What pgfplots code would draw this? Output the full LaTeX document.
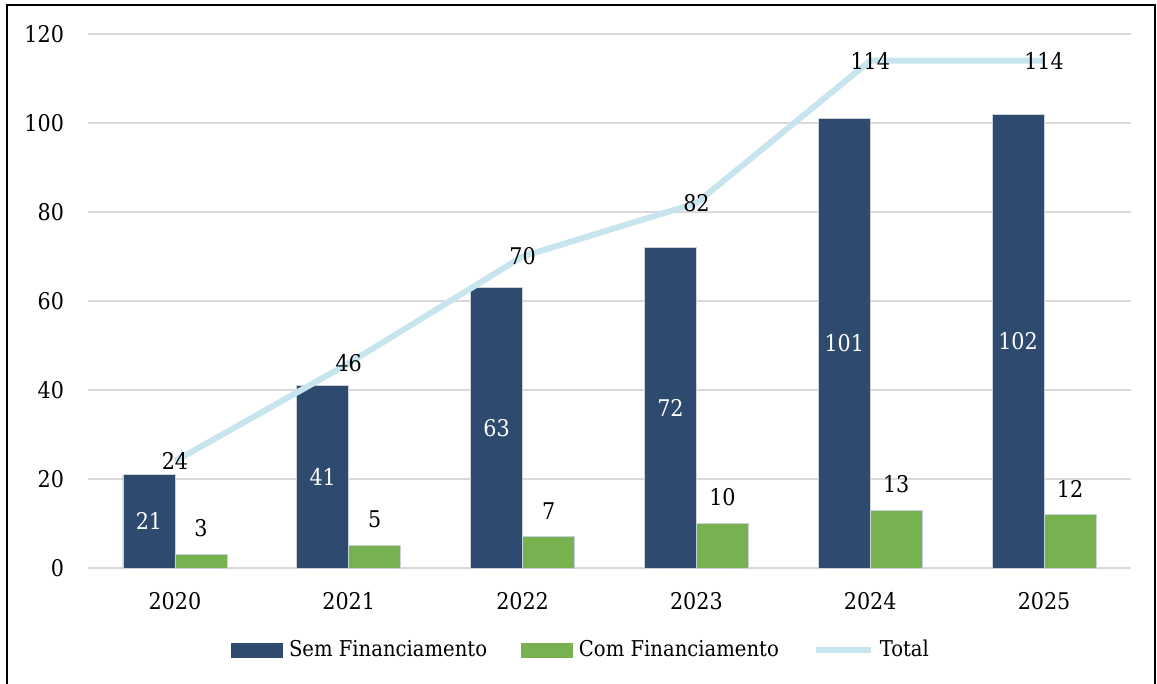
\documentclass[border=0pt]{standalone}
\usepackage{fontspec}
\setmainfont{DejaVu Serif Condensed}
\usepackage{pgfplots}
\pgfplotsset{compat=1.18}
\definecolor{barblue}{HTML}{2E4A6E}
\definecolor{bargreen}{HTML}{78B150}
\definecolor{linecol}{HTML}{C6E5EE}
\definecolor{gridgray}{HTML}{D9D9D9}
\definecolor{baredge}{HTML}{C8D2DC}
\begin{document}
\fontsize{11.5}{13}\selectfont
\begin{tikzpicture}
\useasboundingbox (-44pt,-58pt) rectangle (534.5pt,284pt);
\draw[black, line width=0.8pt] (-40.5pt,-60pt) -- (-40.5pt,281.5pt) -- (533.5pt,281.5pt) -- (533.5pt,-60pt);
\begin{axis}[
  at={(0pt,0pt)}, anchor=south west,
  scale only axis, width=521.5pt, height=267pt,
  xmin=-0.5, xmax=5.5, ymin=0, ymax=120,
  xtick={0,1,2,3,4,5},
  xticklabels={2020,2021,2022,2023,2024,2025},
  ytick={0,20,40,60,80,100,120},
  ymajorgrids,
  grid style={gridgray, line width=0.75pt},
  axis line style={draw=none},
  tick style={draw=none},
  /pgf/number format/assume math mode=true,
  yticklabel style={xshift=-8pt},
  xticklabel style={yshift=-8pt},
  legend columns=3,
  legend style={draw=none, fill=none, at={(0.4737,-0.1536)}, anchor=center,
    font=\fontsize{10.9}{12}\selectfont,
    /tikz/every even column/.append style={column sep=15pt},
    /tikz/every odd column/.append style={column sep=1pt}},
  clip=false,
]
\addplot[ybar, bar width=26pt, bar shift=-13pt, fill=barblue, draw=baredge, line width=0.4pt,
  legend image code/.code={\fill[barblue] (0pt,-3.5pt) rectangle (25.5pt,3.5pt);},
  visualization depends on=y \as \rawy,
  nodes near coords,
  nodes near coords style={white, anchor=center, xshift=-13pt, shift={(axis direction cs:0,-\rawy/2)}},
  ] coordinates {(0,21) (1,41) (2,63) (3,72) (4,101) (5,102)};
\addlegendentry{Sem Financiamento}
\addplot[ybar, bar width=26pt, bar shift=13pt, fill=bargreen, draw=baredge, line width=0.4pt,
  legend image code/.code={\fill[bargreen] (0pt,-3.5pt) rectangle (25.5pt,3.5pt);},
  nodes near coords,
  nodes near coords style={black, anchor=south, xshift=13pt, yshift=4.7pt},
  ] coordinates {(0,3) (1,5) (2,7) (3,10) (4,13) (5,12)};
\addlegendentry{Com Financiamento}
\addplot[linecol, line width=3pt, mark=none,
  legend image code/.code={\draw[linecol, line width=3pt] (0pt,0pt) -- (27.5pt,0pt);},
  nodes near coords,
  nodes near coords style={black, anchor=center},
  ] coordinates {(0,24) (1,46) (2,70) (3,82) (4,114) (5,114)};
\addlegendentry{Total}
\end{axis}
\end{tikzpicture}
\end{document}
